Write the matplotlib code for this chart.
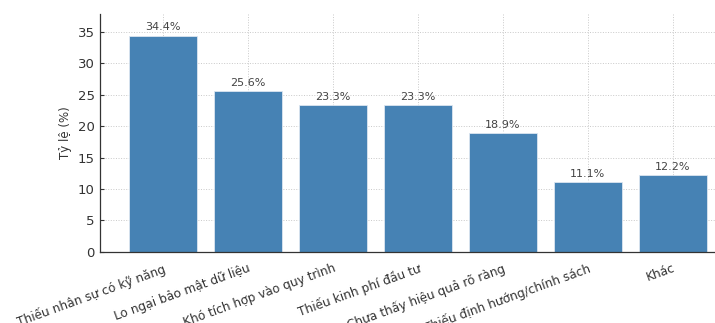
import matplotlib.pyplot as plt

# Rào cản khi ứng dụng AI
categories = [
    "Thiếu nhân sự có kỹ năng",
    "Lo ngại bảo mật dữ liệu",
    "Khó tích hợp vào quy trình",
    "Thiếu kinh phí đầu tư",
    "Chưa thấy hiệu quả rõ ràng",
    "Thiếu định hướng/chính sách",
    "Khác",
]
percentages = [34.4, 25.6, 23.3, 23.3, 18.9, 11.1, 12.2]

plt.rcParams['font.family'] = ['DejaVu Sans']
plt.rcParams['font.size'] = 8

fig = plt.figure(figsize=(7.15, 3.23), dpi=100)
# axes runs a bit past the right edge of the canvas
ax = fig.add_axes([0.14, 0.22, 0.889, 0.737])

x = range(len(categories))
bars = ax.bar(x, percentages, width=0.8, color='#4682B4',
              edgecolor='#dce6f0', linewidth=0.6, zorder=2)

for rect, v in zip(bars, percentages):
    ax.text(rect.get_x() + rect.get_width() / 2, v + 0.5, f"{v}%",
            ha='center', va='bottom', fontsize=8, color='#444444', zorder=4)

ax.set_ylim(0, max(percentages) * 1.1)
ax.set_yticks(range(0, 36, 5))
ax.set_xticks(list(x))
ax.set_xticklabels(categories, rotation=20, ha='right', rotation_mode='anchor')
ax.set_ylabel('Tỷ lệ (%)', fontsize=8.5, color='#333333')

ax.grid(True, linestyle=':', linewidth=0.7, color='#bbbbbb', alpha=0.8, zorder=3)
ax.tick_params(direction='in', length=3, colors='#333333', labelsize=9.5,
               pad=4)
ax.tick_params(axis='x', pad=7, labelsize=8.7)
for side in ('top', 'right'):
    ax.spines[side].set_visible(False)
for side in ('left', 'bottom'):
    ax.spines[side].set_color('#333333')
    ax.spines[side].set_linewidth(0.9)

fig.savefig('out.png', dpi=100)
